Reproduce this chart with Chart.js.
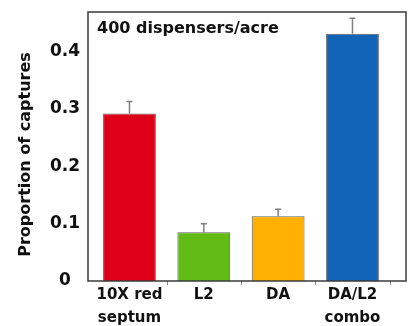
<!DOCTYPE html>
<html>
<head>
<meta charset="utf-8">
<script src="https://cdn.jsdelivr.net/npm/chart.js@4"></script>
<style>
  html, body { margin: 0; padding: 0; background: #fff; }
  canvas { display: block; }
</style>
</head>
<body>
<canvas id="c" width="409" height="326"></canvas>
<script>
const categories = [["10X red", "septum"], "L2", "DA", ["DA/L2", "combo"]];
const values = [0.292, 0.085, 0.113, 0.431];
const errors = [0.021, 0.015, 0.012, 0.027];
const colors = ["#DE0019", "#63BB16", "#FFB000", "#1163B5"];
const yTicks = [0, 0.1, 0.2, 0.3, 0.4];
const panelLabel = "400 dispensers/acre";
const yTitle = "Proportion of captures";

const FONT = "'DejaVu Sans', sans-serif";

const frameAndExtras = {
  id: 'frameAndExtras',
  afterDatasetsDraw(chart) {
    const ctx = chart.ctx;
    const meta = chart.getDatasetMeta(0);
    const ys = chart.scales.y;
    ctx.save();
    ctx.strokeStyle = '#7f7f7f';
    ctx.lineWidth = 1.5;
    meta.data.forEach((el, i) => {
      const top = ys.getPixelForValue(values[i] + errors[i]);
      ctx.beginPath();
      ctx.moveTo(el.x, el.y);
      ctx.lineTo(el.x, top);
      ctx.moveTo(el.x - 3, top);
      ctx.lineTo(el.x + 3, top);
      ctx.stroke();
    });
    ctx.restore();
  },
  afterDraw(chart) {
    const ctx = chart.ctx;
    const a = chart.chartArea;
    const xs = chart.scales.x;
    ctx.save();
    ctx.strokeStyle = '#8a8a8a';
    ctx.lineWidth = 1;
    for (let i = 0; i < categories.length; i++) {
      const px = Math.round(xs.getPixelForValue(i + 0.5)) + 0.5;
      ctx.beginPath();
      ctx.moveTo(px, a.bottom);
      ctx.lineTo(px, a.bottom + 4);
      ctx.stroke();
    }
    ctx.strokeStyle = '#3a3a3a';
    ctx.lineWidth = 1.5;
    ctx.strokeRect(a.left, a.top, a.right - a.left, a.bottom - a.top);
    ctx.fillStyle = '#111';
    ctx.font = "bold 16px " + FONT;
    ctx.textBaseline = 'middle';
    ctx.textAlign = 'left';
    ctx.fillText(panelLabel, a.left + 9, a.top + 17);
    // y axis title
    ctx.translate(26, (a.top + a.bottom) / 2 + 8);
    ctx.rotate(-Math.PI / 2);
    ctx.textAlign = 'center';
    ctx.fillText(yTitle, 0, 0);
    ctx.restore();
  }
};

new Chart(document.getElementById('c'), {
  type: 'bar',
  data: {
    datasets: [{
      data: values.map((v, i) => ({ x: i, y: v })),
      backgroundColor: colors,
      borderColor: '#5f5f5f',
      borderWidth: 1,
      categoryPercentage: 1,
      barPercentage: 0.71
    }]
  },
  options: {
    responsive: false,
    animation: false,
    layout: { padding: { top: 12, right: 3, left: 0, bottom: 0 } },
    plugins: { legend: { display: false }, tooltip: { enabled: false } },
    scales: {
      x: {
        type: 'linear',
        min: -0.558,
        max: 3.72,
        offset: false,
        grid: { display: false, drawTicks: false },
        border: { display: false },
        afterBuildTicks: (s) => { s.ticks = categories.map((c, i) => ({ value: i })); },
        afterFit: (s) => { s.height = 45; s.paddingLeft = 0; s.paddingRight = 0; },
        ticks: {
          autoSkip: false,
          maxRotation: 0,
          padding: 3,
          color: '#111',
          font: { family: FONT, size: 15, weight: 'bold', lineHeight: 1.53 },
          callback: (v) => categories[v]
        }
      },
      y: {
        min: 0,
        max: 0.469,
        grid: { display: false, drawTicks: false },
        border: { display: false },
        afterBuildTicks: (s) => { s.ticks = yTicks.map(v => ({ value: v })); },
        afterFit: (s) => { s.width = 88; s.paddingTop = 0; s.paddingBottom = 0; },
        ticks: {
          crossAlign: 'center',
          padding: 8,
          color: '#111',
          font: { family: FONT, size: 17, weight: 'bold' },
          callback: (v) => String(v)
        },
        title: { display: false }
      }
    }
  },
  plugins: [frameAndExtras]
});
</script>
</body>
</html>
